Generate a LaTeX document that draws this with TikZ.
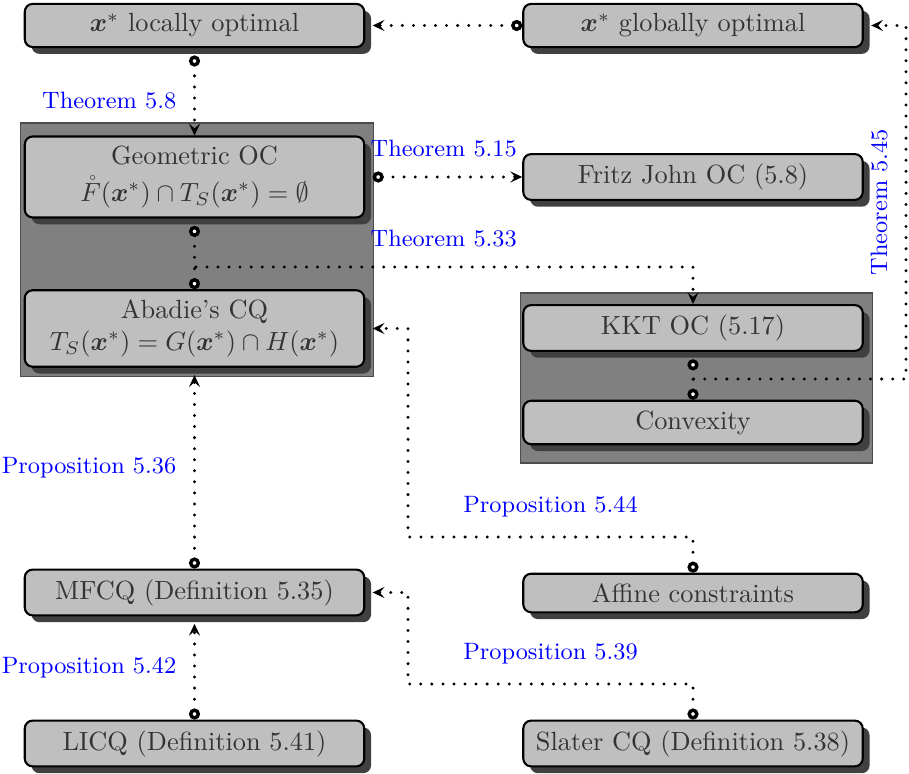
\documentclass[tikz,border=0pt]{standalone}
\usepackage{amsmath,amssymb}
\usetikzlibrary{arrows.meta,shadows,calc}
\begin{document}
\begin{tikzpicture}[x=0.38pt,y=-0.38pt,
 box/.style={draw=black, line width=0.8pt, rounded corners=3pt, fill=black!25, text=black!80,
   minimum width=129pt, inner xsep=3.5pt, inner ysep=3.7pt, align=center,
   drop shadow={shadow xshift=2.6pt, shadow yshift=-2.6pt, fill=black!75, opacity=1}},
 groupbox/.style={draw=black!70, line width=0.4pt, fill=black!50, inner sep=0pt},
 conn/.style={line width=1.25pt, line cap=round, dash pattern=on 0pt off 4.2pt},
 ctip/.style={Circle[open, length=4.2pt, width=4.2pt, line width=1.3pt, fill=white]},
 link/.style={conn, {Circle[open, length=4.2pt, width=4.2pt, line width=1.3pt, fill=white]}-{Stealth[length=4.5pt, width=4.2pt, inset=1.8pt]}},
 stub/.style={conn, {Circle[open, length=4.2pt, width=4.2pt, line width=1.3pt, fill=white]}-},
 lbl/.style={text=blue, font=\small, inner sep=3.33pt},
 fromshadow/.style={shorten <=2.8pt},
 toshadow/.style={shorten >=2.8pt}]
\useasboundingbox (0,0) rectangle (909,774);

% group backgrounds
\node[groupbox, minimum width=133.8pt, minimum height=96.5pt] (g1) at (197,250) {};
\node[groupbox, minimum width=134.1pt, minimum height=64.6pt] (g2) at (696.5,378) {};

% nodes
\node[box] (loc) at (194.5,25.5) {$\boldsymbol{x}^*$ locally optimal};
\node[box] (glob) at (693,25.5) {$\boldsymbol{x}^*$ globally optimal};
\node[box, minimum height=30.5pt] (geo) at (194.5,177) {Geometric OC\\[1.8pt] $\mathring{F}(\boldsymbol{x}^*)\cap T_S(\boldsymbol{x}^*)=\emptyset$};
\node[box] (fritz) at (693,177) {Fritz John OC (5.8)};
\node[box] (aba) at (194.5,328.5) {Abadie's CQ\\ $T_S(\boldsymbol{x}^*)=G(\boldsymbol{x}^*)\cap H(\boldsymbol{x}^*)$};
\node[box] (kkt) at (693,328) {KKT OC (5.17)};
\node[box] (conv) at (693,422.5) {Convexity};
\node[box] (mfcq) at (194.5,592.5) {MFCQ (Definition 5.35)};
\node[box] (aff) at (693,593) {Affine constraints};
\node[box] (licq) at (194.5,743.5) {LICQ (Definition 5.41)};
\node[box] (slater) at (693,743.5) {Slater CQ (Definition 5.38)};

% junction coordinates
\coordinate (j1) at (194.5,267);
\coordinate (j2) at (693,379);
\coordinate (r1) at (906,379);
\coordinate (a1) at (408,537);
\coordinate (a2) at (408,684);

% connectors
\draw[link, toshadow] (glob.west) -- (loc.east);
\draw[link, fromshadow] (loc.south) -- node[lbl, left=3pt, pos=0.6] {Theorem 5.8} (geo.north);
\draw[link, fromshadow] (geo.east) -- node[lbl, above=3.5pt, midway] {Theorem 5.15} (fritz.west);
\draw[link, fromshadow] (geo.south) -- (j1) -| node[lbl, above=3.5pt, pos=0.25] {Theorem 5.33} (kkt.north);
\draw[stub] (aba.north) -- (j1);
\draw[link, fromshadow, toshadow] (kkt.south) -- (j2) -- (r1) |- node[lbl, sloped, above=3pt, pos=0.25] {Theorem 5.45} (glob.east);
\draw[stub] (conv.north) -- (j2);
\draw[link, toshadow] (mfcq.north) -- node[lbl, left=3pt, midway] {Proposition 5.36} (aba.south);
\draw[link, toshadow] (aff.north) |- node[lbl, above=3.5pt, pos=0.75] {Proposition 5.44} (a1) |- (aba.east);
\draw[link, toshadow] (licq.north) -- node[lbl, left=3pt, midway] {Proposition 5.42} (mfcq.south);
\draw[link, toshadow] (slater.north) |- node[lbl, above=3.5pt, pos=0.75] {Proposition 5.39} (a2) |- (mfcq.east);
\end{tikzpicture}
\end{document}
